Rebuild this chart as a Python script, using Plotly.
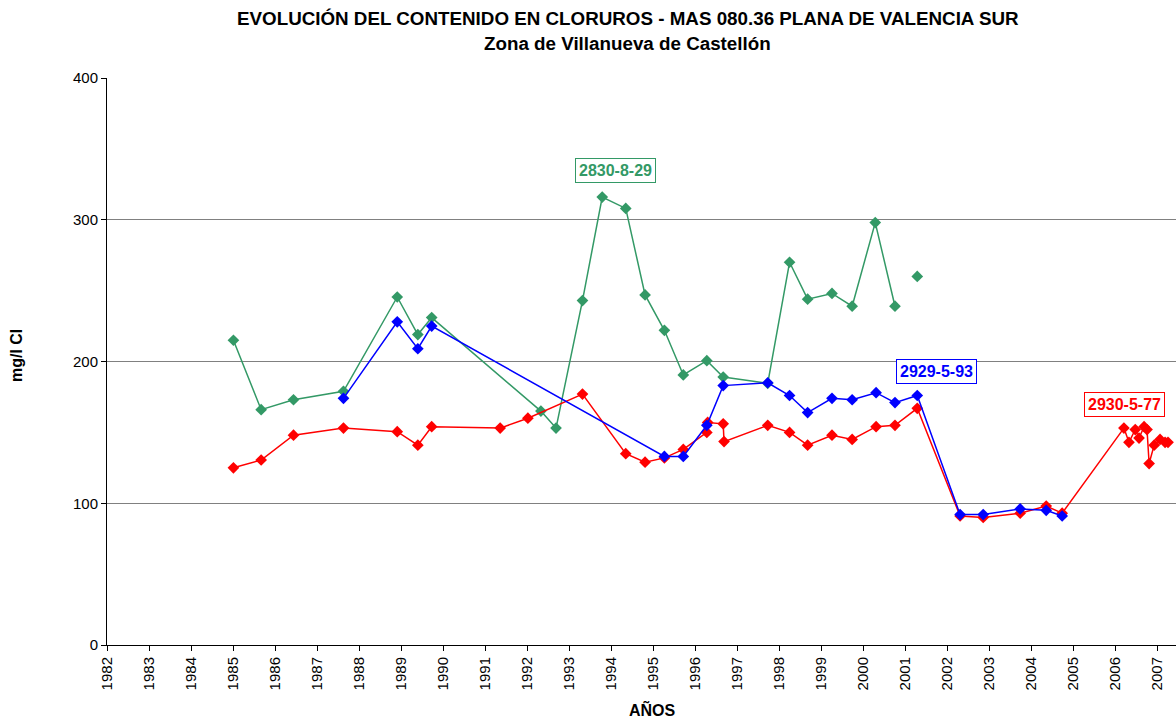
import plotly.graph_objects as go

# --- Data (decimal years, mg/l Cl) ---
green_name = "2830-8-29"
green_x = [1985.01, 1985.67, 1986.44, 1987.63, 1988.91, 1989.40, 1989.73, 1992.33, 1992.69,
           1993.32, 1993.79, 1994.35, 1994.81, 1995.27, 1995.72, 1996.28, 1996.67, 1997.73,
           1998.25, 1998.68, 1999.26, 1999.74, 2000.29, 2000.76, None, 2001.29]
green_y = [215, 166, 173, 179, 245.5, 219, 231, 165, 153,
           243, 316, 308, 247, 222, 190.5, 200.6, 189, 184.6,
           270, 244, 248, 239, 298, 239, None, 260]

red_name = "2930-5-77"
red_x = [1985.01, 1985.67, 1986.44, 1987.63, 1988.91, 1989.40, 1989.73, 1991.36, 1992.02,
         1993.32, 1994.35, 1994.81, 1995.27, 1995.72, 1996.28, 1996.30, 1996.67, 1996.69,
         1997.73, 1998.25, 1998.68, 1999.26, 1999.74, 2000.31, 2000.76, 2001.29,
         2002.31, 2002.86, 2003.74, 2004.36, 2004.74,
         2006.21, 2006.33, 2006.48, 2006.57, 2006.69, 2006.76, 2006.81, 2006.93,
         2007.07, 2007.19, 2007.26]
red_y = [125, 130.5, 148, 153, 150.5, 141, 154, 153, 160,
         177, 135, 129, 132, 138, 150, 157, 156, 143.5,
         155, 150, 141, 148, 145, 154, 155, 167,
         91, 90, 93, 98, 93,
         153, 143, 152, 146, 154, 152, 128, 141,
         145, 143, 143]

blue_name = "2929-5-93"
blue_x = [1987.63, 1988.91, 1989.40, 1989.73, 1995.27, 1995.72, 1996.28, 1996.67, 1997.73,
          1998.25, 1998.68, 1999.26, 1999.74, 2000.31, 2000.76, 2001.29,
          2002.31, 2002.86, 2003.74, 2004.36, 2004.74]
blue_y = [174, 228, 209, 225, 133, 133, 155, 183, 185,
          176, 164, 174, 173, 178, 171, 176,
          92, 92, 96, 95, 91]

year_ticks = list(range(1982, 2008))
y_ticks = [0, 100, 200, 300, 400]

title_line1 = "EVOLUCIÓN DEL CONTENIDO EN CLORUROS - MAS 080.36 PLANA DE VALENCIA SUR"
title_line2 = "Zona de Villanueva de Castellón"
x_title = "AÑOS"
y_title = "mg/l Cl"

GREEN = "#339966"
RED = "#FF0000"
BLUE = "#0000FF"
FONT = "Liberation Sans, Arial, sans-serif"

fig = go.Figure()
for name, xs, ys, col in [(green_name, green_x, green_y, GREEN),
                          (red_name, red_x, red_y, RED),
                          (blue_name, blue_x, blue_y, BLUE)]:
    fig.add_trace(go.Scatter(
        x=xs, y=ys, name=name, mode="lines+markers",
        line=dict(color=col, width=1.5),
        marker=dict(symbol="diamond", size=9, color=col),
        connectgaps=False, showlegend=False))

fig.update_layout(
    width=1176, height=718,
    margin=dict(l=107, r=0, t=78, b=73),
    paper_bgcolor="white", plot_bgcolor="white",
    font=dict(family=FONT, color="black", size=15),
)

fig.update_xaxes(
    range=[1982, 2007.45], tickmode="array", tickvals=year_ticks,
    ticktext=[str(y) for y in year_ticks], tickangle=-90,
    ticks="outside", ticklen=5, tickcolor="black",
    showline=True, linecolor="black", linewidth=1,
    showgrid=False, zeroline=False,
    tickfont=dict(family=FONT, size=15, color="black"))

fig.update_yaxes(
    range=[0, 400], tickmode="array", tickvals=y_ticks,
    ticks="outside", ticklen=5, tickcolor="black",
    showline=True, linecolor="black", linewidth=1,
    showgrid=True, gridcolor="#808080", gridwidth=1, zeroline=False,
    tickfont=dict(family=FONT, size=15, color="black"))

annotations = [
    dict(text="<b>" + title_line1 + "</b>", xref="paper", yref="paper", x=0.487, y=1.1058,
         showarrow=False, xanchor="center", yanchor="middle",
         font=dict(family=FONT, size=18.8, color="black")),
    dict(text="<b>" + title_line2 + "</b>", xref="paper", yref="paper", x=0.487, y=1.0617,
         showarrow=False, xanchor="center", yanchor="middle",
         font=dict(family=FONT, size=18.8, color="black")),
    dict(text="<b>" + y_title + "</b>", xref="paper", yref="paper", x=-0.084, y=0.51,
         textangle=-90, showarrow=False, xanchor="center", yanchor="middle",
         font=dict(family=FONT, size=16, color="black")),
    dict(text="<b>" + x_title + "</b>", xref="paper", yref="paper", x=0.51, y=-0.1146,
         showarrow=False, xanchor="center", yanchor="middle",
         font=dict(family=FONT, size=16, color="black")),
    dict(text="<b>" + green_name + "</b>", xref="x", yref="y", x=1994.1, y=334.4,
         showarrow=False, bordercolor=GREEN, borderwidth=1, borderpad=3, bgcolor="white",
         font=dict(family=FONT, size=16, color=GREEN)),
    dict(text="<b>" + blue_name + "</b>", xref="x", yref="y", x=2001.74, y=192.6,
         showarrow=False, bordercolor=BLUE, borderwidth=1, borderpad=3, bgcolor="white",
         font=dict(family=FONT, size=16, color=BLUE)),
    dict(text="<b>" + red_name + "</b>", xref="x", yref="y", x=2006.23, y=170,
         showarrow=False, bordercolor=RED, borderwidth=1, borderpad=3, bgcolor="white",
         font=dict(family=FONT, size=16, color=RED)),
]
fig.update_layout(annotations=annotations)

fig.write_html("out.html", config={"displayModeBar": False},
               post_script="document.body.style.margin='0px';")
